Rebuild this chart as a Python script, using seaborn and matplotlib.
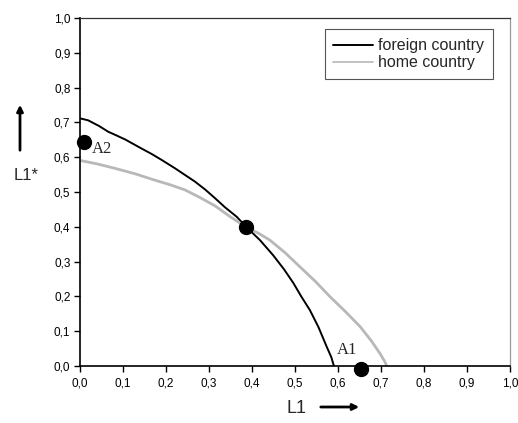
import numpy as np
import pandas as pd
import matplotlib
matplotlib.use('Agg')
import matplotlib.pyplot as plt
import seaborn as sns

# data
foreign_x = [0.0, 0.02, 0.045, 0.067, 0.085, 0.106, 0.125, 0.144, 0.168, 0.191, 0.222, 0.245, 0.268, 0.292,
             0.315, 0.338, 0.365, 0.387, 0.419, 0.45, 0.475, 0.497, 0.515, 0.535, 0.555, 0.574, 0.585, 0.591]
foreign_y = [0.712, 0.706, 0.690, 0.673, 0.663, 0.651, 0.638, 0.625, 0.609, 0.592, 0.568, 0.549, 0.530, 0.507,
             0.482, 0.456, 0.429, 0.40, 0.362, 0.318, 0.278, 0.238, 0.200, 0.161, 0.112, 0.056, 0.025, 0.0]
home_x = [0.0, 0.04, 0.0825, 0.13, 0.175, 0.21, 0.245, 0.28, 0.315, 0.35, 0.387, 0.415, 0.442, 0.478, 0.512,
          0.548, 0.582, 0.618, 0.652, 0.678, 0.698, 0.708, 0.714]
home_y = [0.591, 0.581, 0.568, 0.552, 0.534, 0.521, 0.506, 0.484, 0.460, 0.429, 0.399, 0.382, 0.362, 0.325,
          0.285, 0.243, 0.199, 0.156, 0.113, 0.072, 0.036, 0.015, 0.0]

pts_x = [0.0105, 0.387, 0.653]
pts_y = [0.645, 0.399, -0.008]

ticks = [0.0, 0.1, 0.2, 0.3, 0.4, 0.5, 0.6, 0.7, 0.8, 0.9, 1.0]
tick_labels = ['0,0', '0,1', '0,2', '0,3', '0,4', '0,5', '0,6', '0,7', '0,8', '0,9', '1,0']

df_f = pd.DataFrame({'L1': foreign_x, 'L1s': foreign_y})
df_h = pd.DataFrame({'L1': home_x, 'L1s': home_y})

sns.set_style('ticks')
plt.rcParams['font.family'] = ['Liberation Sans', 'DejaVu Sans']

fig = plt.figure(figsize=(5.18, 4.23), dpi=100)
ax = fig.add_axes([79.5 / 518, 1 - 366 / 423, 430.5 / 518, 348 / 423])

sns.lineplot(data=df_f, x='L1', y='L1s', sort=False, color='black', linewidth=1.4,
             label='foreign country', ax=ax)
sns.lineplot(data=df_h, x='L1', y='L1s', sort=False, color='#b8b8b8', linewidth=2.0,
             label='home country', ax=ax)
ax.scatter(pts_x, pts_y, s=100, color='black', zorder=5, clip_on=False)

ax.text(0.029, 0.624, 'A2', fontsize=12, family='Liberation Serif', va='center', ha='left')
ax.text(0.598, 0.045, 'A1', fontsize=12, family='Liberation Serif', va='center', ha='left')

ax.set_xlim(0, 1)
ax.set_ylim(0, 1)
ax.set_xticks(ticks)
ax.set_xticklabels(tick_labels)
ax.set_yticks(ticks)
ax.set_yticklabels(tick_labels)
ax.tick_params(direction='out', length=4, width=1, labelsize=8.5, colors='black')
ax.tick_params(axis='x', pad=4.5)
ax.tick_params(axis='y', pad=2.5)
ax.set_xlabel('')
ax.set_ylabel('')

for s in ['left', 'bottom']:
    ax.spines[s].set_linewidth(1.2)
    ax.spines[s].set_color('black')
ax.spines['top'].set_linewidth(0.9)
ax.spines['top'].set_color('#333333')
ax.spines['right'].set_linewidth(0.9)
ax.spines['right'].set_color('#999999')

leg = ax.legend(loc='upper right', bbox_to_anchor=(0.9605, 0.9675), borderaxespad=0,
                fancybox=False, framealpha=1, edgecolor='#555555', fontsize=11.5,
                handlelength=2.5, handletextpad=0.3, labelspacing=0.15, borderpad=0.55)
leg.get_frame().set_linewidth(0.8)
leg.get_lines()[1].set_linewidth(1.2)

# axis labels with arrows
fig.text(296 / 518, 1 - 408 / 423, 'L1', fontsize=13, ha='center', va='center')
fig.add_artist(matplotlib.patches.FancyArrowPatch((318 / 518, 1 - 407 / 423), (362 / 518, 1 - 407 / 423),
                                                  transform=fig.transFigure, arrowstyle='-|>',
                                                  mutation_scale=9, linewidth=2, color='black'))
fig.text(26 / 518, 1 - 175 / 423, 'L1*', fontsize=12, ha='center', va='center')
fig.add_artist(matplotlib.patches.FancyArrowPatch((20 / 518, 1 - 153 / 423), (20 / 518, 1 - 102 / 423),
                                                  transform=fig.transFigure, arrowstyle='-|>',
                                                  mutation_scale=9, linewidth=2, color='black'))

fig.savefig('out.png', dpi=100)
